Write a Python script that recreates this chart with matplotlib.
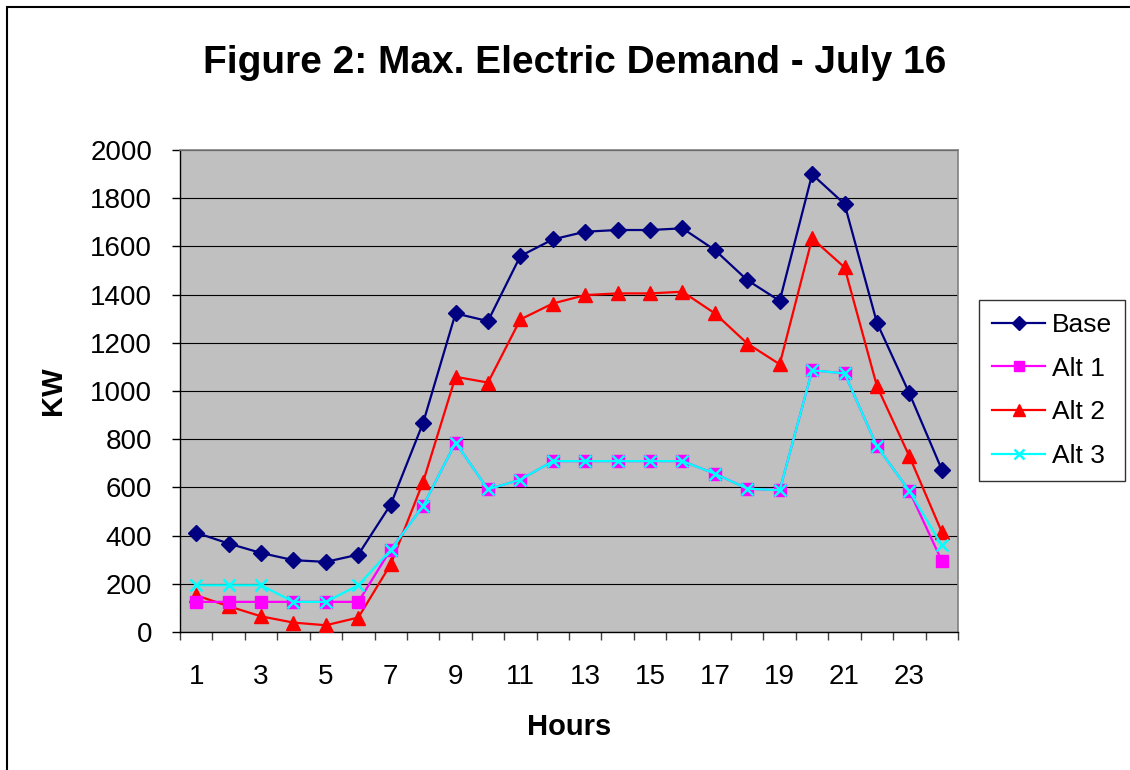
import matplotlib
matplotlib.use("Agg")
import matplotlib.pyplot as plt
from matplotlib.patches import Rectangle

hours = list(range(1, 25))
base = [412, 367, 328, 298, 291, 321, 529, 868, 1322, 1290, 1560, 1629,
        1661, 1668, 1668, 1675, 1585, 1460, 1374, 1899, 1776, 1283, 990, 674]
alt1 = [125, 125, 125, 125, 125, 125, 342, 523, 786, 592, 632, 709,
        709, 709, 709, 709, 657, 595, 588, 1086, 1073, 771, 585, 295]
alt2 = [152, 107, 65, 39, 28, 60, 281, 623, 1059, 1035, 1297, 1363,
        1398, 1405, 1405, 1412, 1322, 1197, 1111, 1633, 1513, 1020, 729, 415]
alt3 = [194, 194, 194, 125, 125, 194, 340, 523, 786, 592, 632, 709,
        709, 709, 709, 709, 657, 595, 588, 1086, 1073, 771, 585, 360]
series_names = ["Base", "Alt 1", "Alt 2", "Alt 3"]
y_ticks = list(range(0, 2001, 200))
x_labels = list(range(1, 24, 2))

plt.rcParams['font.family'] = ['Liberation Sans', 'DejaVu Sans']

fig = plt.figure(figsize=(11.3, 7.7), dpi=100)
fig.patch.set_facecolor('white')
fig.add_artist(Rectangle((7 / 1130, -0.1), 1.5, (1 - 7 / 770) + 0.1,
                         transform=fig.transFigure, fill=False,
                         edgecolor='black', linewidth=1.5))

ax = fig.add_axes([180 / 1130, 1 - 632 / 770, (958 - 180) / 1130, (632 - 150) / 770])
ax.set_facecolor('#C0C0C0')

lw = 1.6
l1, = ax.plot(hours, base, color='#000080', marker='D', markersize=8, lw=lw, label=series_names[0], zorder=3)
l2, = ax.plot(hours, alt1, color='#FF00FF', marker='s', markersize=8.5, lw=lw, label=series_names[1], zorder=4)
l3, = ax.plot(hours, alt2, color='#FF0000', marker='^', markersize=10, lw=lw, label=series_names[2], zorder=3)
l4, = ax.plot(hours, alt3, color='#00FFFF', marker='x', markersize=9, markeredgewidth=1.8, lw=lw, label=series_names[3], zorder=5)

ax.set_xlim(0.5, 24.5)
ax.set_ylim(0, 2000)
ax.set_yticks(y_ticks)
ax.set_yticklabels([str(v) for v in y_ticks])
ax.yaxis.grid(True, color='black', linewidth=0.8)
ax.set_axisbelow(True)

ax.set_xticks(x_labels)
ax.set_xticklabels([str(v) for v in x_labels])
ax.set_xticks([h + 0.5 for h in range(0, 25)], minor=True)
ax.tick_params(axis='x', which='major', length=0, pad=23, labelsize=20)
ax.tick_params(axis='x', which='minor', length=6, width=1, color='#404040', direction='out')
ax.tick_params(axis='y', which='major', length=6, width=1, color='black', pad=14, labelsize=20)

for side in ['top', 'right']:
    ax.spines[side].set_color('#808080')
    ax.spines[side].set_linewidth(1.2)
ax.spines['left'].set_color('black')
ax.spines['bottom'].set_color('black')
ax.spines['left'].set_linewidth(1)
ax.spines['bottom'].set_linewidth(1)

fig.text(575 / 1130, 1 - 73 / 770, "Figure 2: Max. Electric Demand - July 16",
         ha='center', va='baseline', fontsize=28, fontweight='bold')
fig.text(569 / 1130, 1 - 735 / 770, "Hours", ha='center', va='baseline',
         fontsize=21, fontweight='bold')
fig.text(53 / 1130, 1 - 391 / 770, "KW", ha='center', va='center', rotation=90,
         fontsize=21, fontweight='bold')

leg = fig.legend(handles=[l1, l2, l3, l4], loc='upper left',
                 bbox_to_anchor=(979 / 1130, 1 - 300 / 770),
                 fontsize=19, frameon=True, fancybox=False, shadow=False,
                 borderpad=0.5, labelspacing=0.74, handlelength=2.0,
                 handletextpad=0.25, borderaxespad=0, markerscale=0.85)
leg.get_frame().set_edgecolor('black')
leg.get_frame().set_linewidth(1)

fig.savefig("out.png", dpi=100)
